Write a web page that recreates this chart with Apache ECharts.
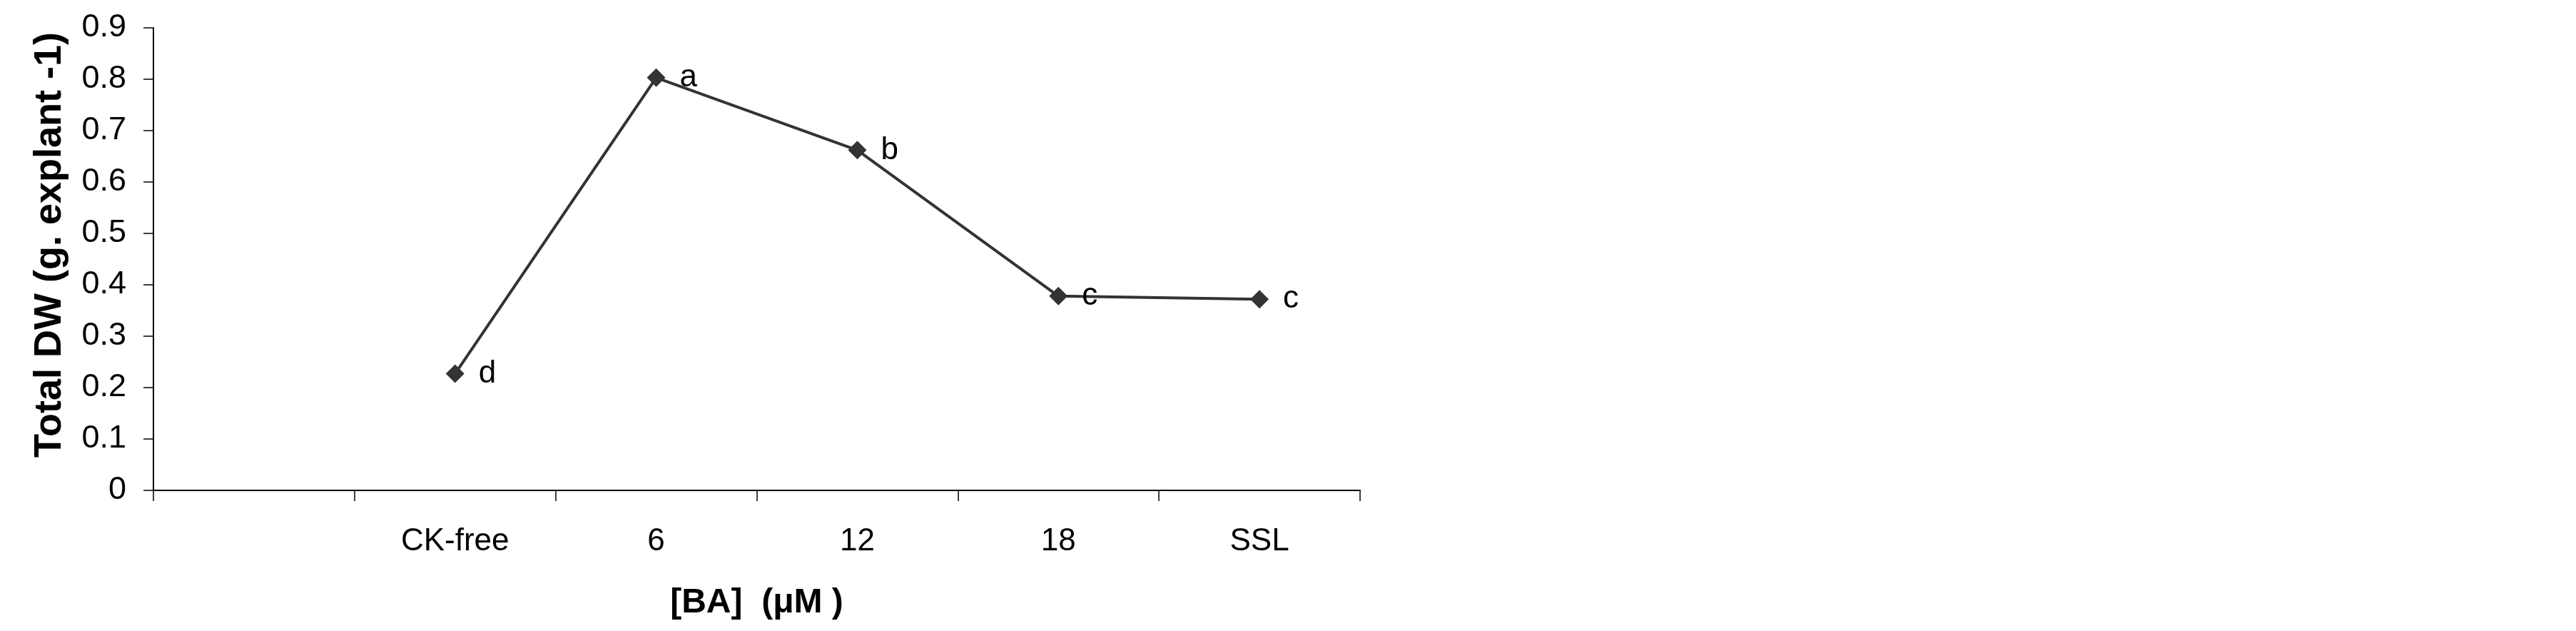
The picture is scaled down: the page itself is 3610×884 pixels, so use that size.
<!DOCTYPE html>
<html>
<head>
<meta charset="utf-8">
<script src="https://cdn.jsdelivr.net/npm/echarts@6/dist/echarts.min.js"></script>
<style>
html,body{margin:0;padding:0;background:#fff;}
#chart{width:3610px;height:884px;}
</style>
</head>
<body>
<div id="chart"></div>
<script>
var categories = ['', 'CK-free', '6', '12', '18', 'SSL'];
var totalDW = [null, 0.227, 0.803, 0.662, 0.378, 0.372];
var letters = ['', 'd', 'a', 'b', 'c', 'c'];
var yTicks = { min: 0, max: 0.9, interval: 0.1 };
var xAxisName = '[BA]  (\u03BCM )';
var yAxisName = 'Total DW (g. explant -1)';

var chart = echarts.init(document.getElementById('chart'), null, { renderer: 'canvas' });
var font = '"Liberation Sans", Arial, sans-serif';
chart.setOption({
  backgroundColor: '#ffffff',
  animation: false,
  grid: { left: 215, right: 1704, top: 39, bottom: 197, containLabel: false },
  xAxis: {
    type: 'category',
    data: categories,
    boundaryGap: true,
    name: xAxisName,
    nameLocation: 'middle',
    nameGap: 134,
    nameTextStyle: { fontFamily: font, fontSize: 48, fontWeight: 'bold', color: '#000' },
    axisLine: { lineStyle: { color: '#000', width: 2 } },
    axisTick: { show: true, length: 15, lineStyle: { color: '#000', width: 1.5 } },
    axisLabel: { fontFamily: font, fontSize: 44, color: '#000', margin: 50 },
    splitLine: { show: false }
  },
  yAxis: {
    type: 'value',
    min: yTicks.min,
    max: yTicks.max,
    interval: yTicks.interval,
    name: yAxisName,
    nameLocation: 'middle',
    nameGap: 118,
    nameTextStyle: { fontFamily: font, fontSize: 54, fontWeight: 'bold', color: '#000', padding: [0, 0, 0, 40] },
    axisLine: { show: true, lineStyle: { color: '#000', width: 2 } },
    axisTick: { show: true, length: 14, lineStyle: { color: '#000', width: 1.5 } },
    axisLabel: { fontFamily: font, fontSize: 45, color: '#000', margin: 38,
      formatter: function (v) { return (Math.round(v * 10) / 10).toString(); } },
    splitLine: { show: false }
  },
  series: [{
    type: 'line',
    data: totalDW,
    connectNulls: false,
    symbol: 'diamond',
    symbolSize: 26,
    itemStyle: { color: '#333333' },
    lineStyle: { color: '#333333', width: 4 },
    label: {
      show: true,
      position: 'right',
      distance: 20,
      fontFamily: font,
      fontSize: 44,
      color: '#000',
      formatter: function (p) { return letters[p.dataIndex]; }
    }
  }]
});
</script>
</body>
</html>
